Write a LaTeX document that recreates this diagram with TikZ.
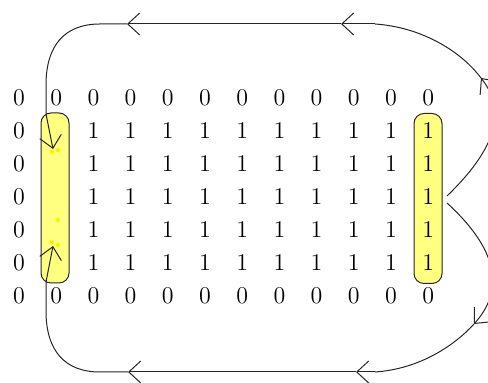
\documentclass[tikz,border=0pt]{standalone}
\usetikzlibrary{arrows.meta}
\definecolor{boxfill}{RGB}{255,255,128}
\definecolor{dotfill}{RGB}{255,240,0}
\begin{document}
\begin{tikzpicture}[x=0.5pt,y=-0.5pt,
  num/.style={font=\fontsize{12}{14}\selectfont, inner sep=0pt, text height=6.6pt, text depth=0pt},
  hbox/.style={draw=black!85, fill=boxfill, rounded corners=5pt, minimum width=14pt, minimum height=85pt, line width=0.5pt, inner sep=0pt},
  flow/.style={draw=black!85, line width=0.5pt},
  tip/.style={-{Straight Barb[length=6pt,width=11pt]}},
  ydot/.style={circle, fill=dotfill, inner sep=0pt, minimum size=2.2pt}
]
\useasboundingbox (0,0) rectangle (488,383);
\clip (0,0) rectangle (488,383);

% highlighted columns
\node[hbox] (lbox) at (55,198) {};
\node[hbox] (rbox) at (428,198.5) {};

% grid of digits
\foreach \cc in {0,...,11} {
  \node[num] (c-0-\cc) at ({19+37.2*\cc},99) {0};
  \node[num] (c-6-\cc) at ({19+37.2*\cc},297) {0};
}
\foreach \rr in {1,...,5} {
  \node[num] (c-\rr-0) at (19,{99+33*\rr}) {0};
  \foreach \cc in {2,...,11} {
    \node[num] (c-\rr-\cc) at ({19+37.2*\cc},{99+33*\rr}) {1};
  }
}

% small yellow dots inside the left box
\node[ydot] (d1) at (52,152) {};
\node[ydot] (d2) at (58,150) {};
\node[ydot] (d3) at (58,220) {};
\node[ydot] (d4) at (52,242) {};
\node[ydot] (d5) at (58,245) {};

% coordinates of the upper loop
\coordinate (ts) at (447,196);
\coordinate (ta1) at (481,78);
\coordinate (tc) at (375,24);
\coordinate (ta2) at (341,24);
\coordinate (ta3) at (127,24);
\coordinate (tl) at (100,24);
\coordinate (tv) at (46,85);
\coordinate (tb) at (46,114);
\coordinate (te) at (53,149);

% coordinates of the lower loop
\coordinate (bs) at (447,203);
\coordinate (ba1) at (474,324);
\coordinate (bc) at (375,372);
\coordinate (ba2) at (356,372);
\coordinate (ba3) at (128,372);
\coordinate (bl) at (100,372);
\coordinate (bv) at (46,311);
\coordinate (bb) at (46,282);
\coordinate (be) at (53,246);

% upper loop
\draw[flow,tip] (ts) .. controls (505,140) and (502,105) .. (ta1);
\draw[flow] (ta1) .. controls (460,50) and (420,27) .. (tc);
\draw[flow,tip] (tc) -- (ta2);
\draw[flow,tip] (ta2) -- (ta3);
\draw[flow,tip] (ta3) -- (tl) .. controls (65,24) and (46,45) .. (tv) -- (tb) -- (te);

% lower loop
\draw[flow,tip] (bs) .. controls (505,256) and (500,295) .. (ba1);
\draw[flow] (ba1) .. controls (455,345) and (420,369) .. (bc);
\draw[flow,tip] (bc) -- (ba2);
\draw[flow,tip] (ba2) -- (ba3);
\draw[flow,tip] (ba3) -- (bl) .. controls (65,372) and (46,351) .. (bv) -- (bb) -- (be);
\end{tikzpicture}
\end{document}
